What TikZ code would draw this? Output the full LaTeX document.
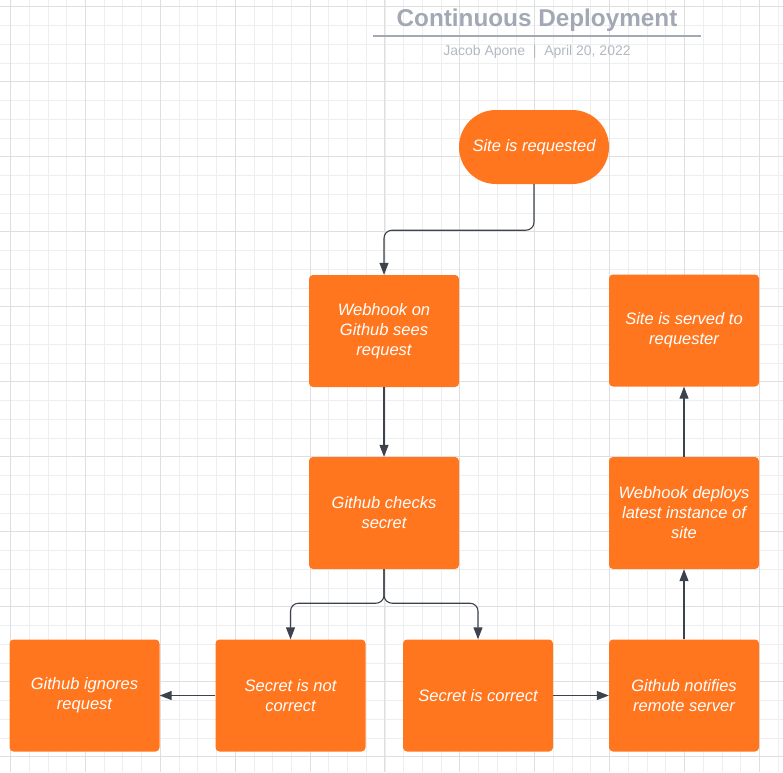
\documentclass[tikz,border=0pt]{standalone}
\usepackage{fontspec}
\setmainfont{Liberation Sans}
\usetikzlibrary{arrows.meta}
\definecolor{cdorange}{HTML}{FF761F}
\definecolor{cdline}{HTML}{3C434D}
\definecolor{cdtitle}{HTML}{A2A8B4}
\definecolor{cdsub}{HTML}{B3B8C2}
\definecolor{gridminor}{HTML}{EEEEEE}
\definecolor{gridmajor}{HTML}{DFDFDF}

\tikzset{
	stepbox/.style={rectangle,fill=cdorange,rounded corners=4pt,minimum width=150pt,minimum height=112pt,inner sep=0pt,text=white,align=center,font=\fontsize{16.5}{20}\selectfont\itshape},
	startbox/.style={stepbox,minimum height=74pt,rounded corners=36.9pt},
	flow/.style={draw=cdline,line width=1.1pt,-{Triangle[length=12pt,width=9pt]}},
	titletext/.style={inner sep=0pt,anchor=base,text=cdtitle,font=\fontsize{24.3}{28}\selectfont\bfseries},
	subtext/.style={inner sep=0pt,anchor=base,text=cdsub,font=\fontsize{14}{16}\selectfont}
}

\begin{document}
\begin{tikzpicture}[x=1pt,y=-1pt]
\useasboundingbox (0,0) rectangle (783,772);

\begin{scope}
	\clip (0,0) rectangle (783,772);
	\foreach \k in {-1,...,42} {
		\draw[gridminor,line width=0.7pt] ({10.5+\k*18.72},0) -- ++(0,772);
		\draw[gridminor,line width=0.7pt] (0,{6.8+\k*18.75}) -- ++(783,0);
	}
	\foreach \k in {0,...,10} {
		\draw[gridmajor,line width=0.9pt] ({10.5+\k*74.87},0) -- ++(0,772);
		\draw[gridmajor,line width=0.9pt] (0,{6.8+\k*75}) -- ++(783,0);
	}
\end{scope}

\node[titletext] (title) at (537,26) {Continuous Deployment};
\draw[cdtitle,line width=2pt] (373,36) -- (701,36);
\node[subtext] (byline) at (537,55) {Jacob Apone\ \ |\ \ April 20, 2022};

\node[startbox] (request) at (534,147) {Site is requested};
\node[stepbox] (webhook) at (384,331) {Webhook on\\Github sees\\request};
\node[stepbox] (check) at (384,513) {Github checks\\secret};
\node[stepbox] (wrong) at (290.5,695.5) {Secret is not\\correct};
\node[stepbox] (ignore) at (84.5,695.5) {Github ignores\\request};
\node[stepbox] (right) at (478,695.5) {Secret is correct};
\node[stepbox] (notify) at (684,695.5) {Github notifies\\remote server};
\node[stepbox] (deploy) at (684,513) {Webhook deploys\\latest instance of\\site};
\node[stepbox] (served) at (684,330.5) {Site is served to\\requester};

\draw[flow,rounded corners=8pt] (request.south) -- ++(0,46) -| (webhook.north);
\draw[flow] (webhook.south) -- (check.north);
\draw[flow,rounded corners=8pt] (check.south) -- ++(0,34) -| (wrong.north);
\draw[flow,rounded corners=8pt] (check.south) -- ++(0,34) -| (right.north);
\draw[flow] (wrong.west) -- (ignore.east);
\draw[flow] (right.east) -- (notify.west);
\draw[flow] (notify.north) -- (deploy.south);
\draw[flow] (deploy.north) -- (served.south);
\end{tikzpicture}
\end{document}
